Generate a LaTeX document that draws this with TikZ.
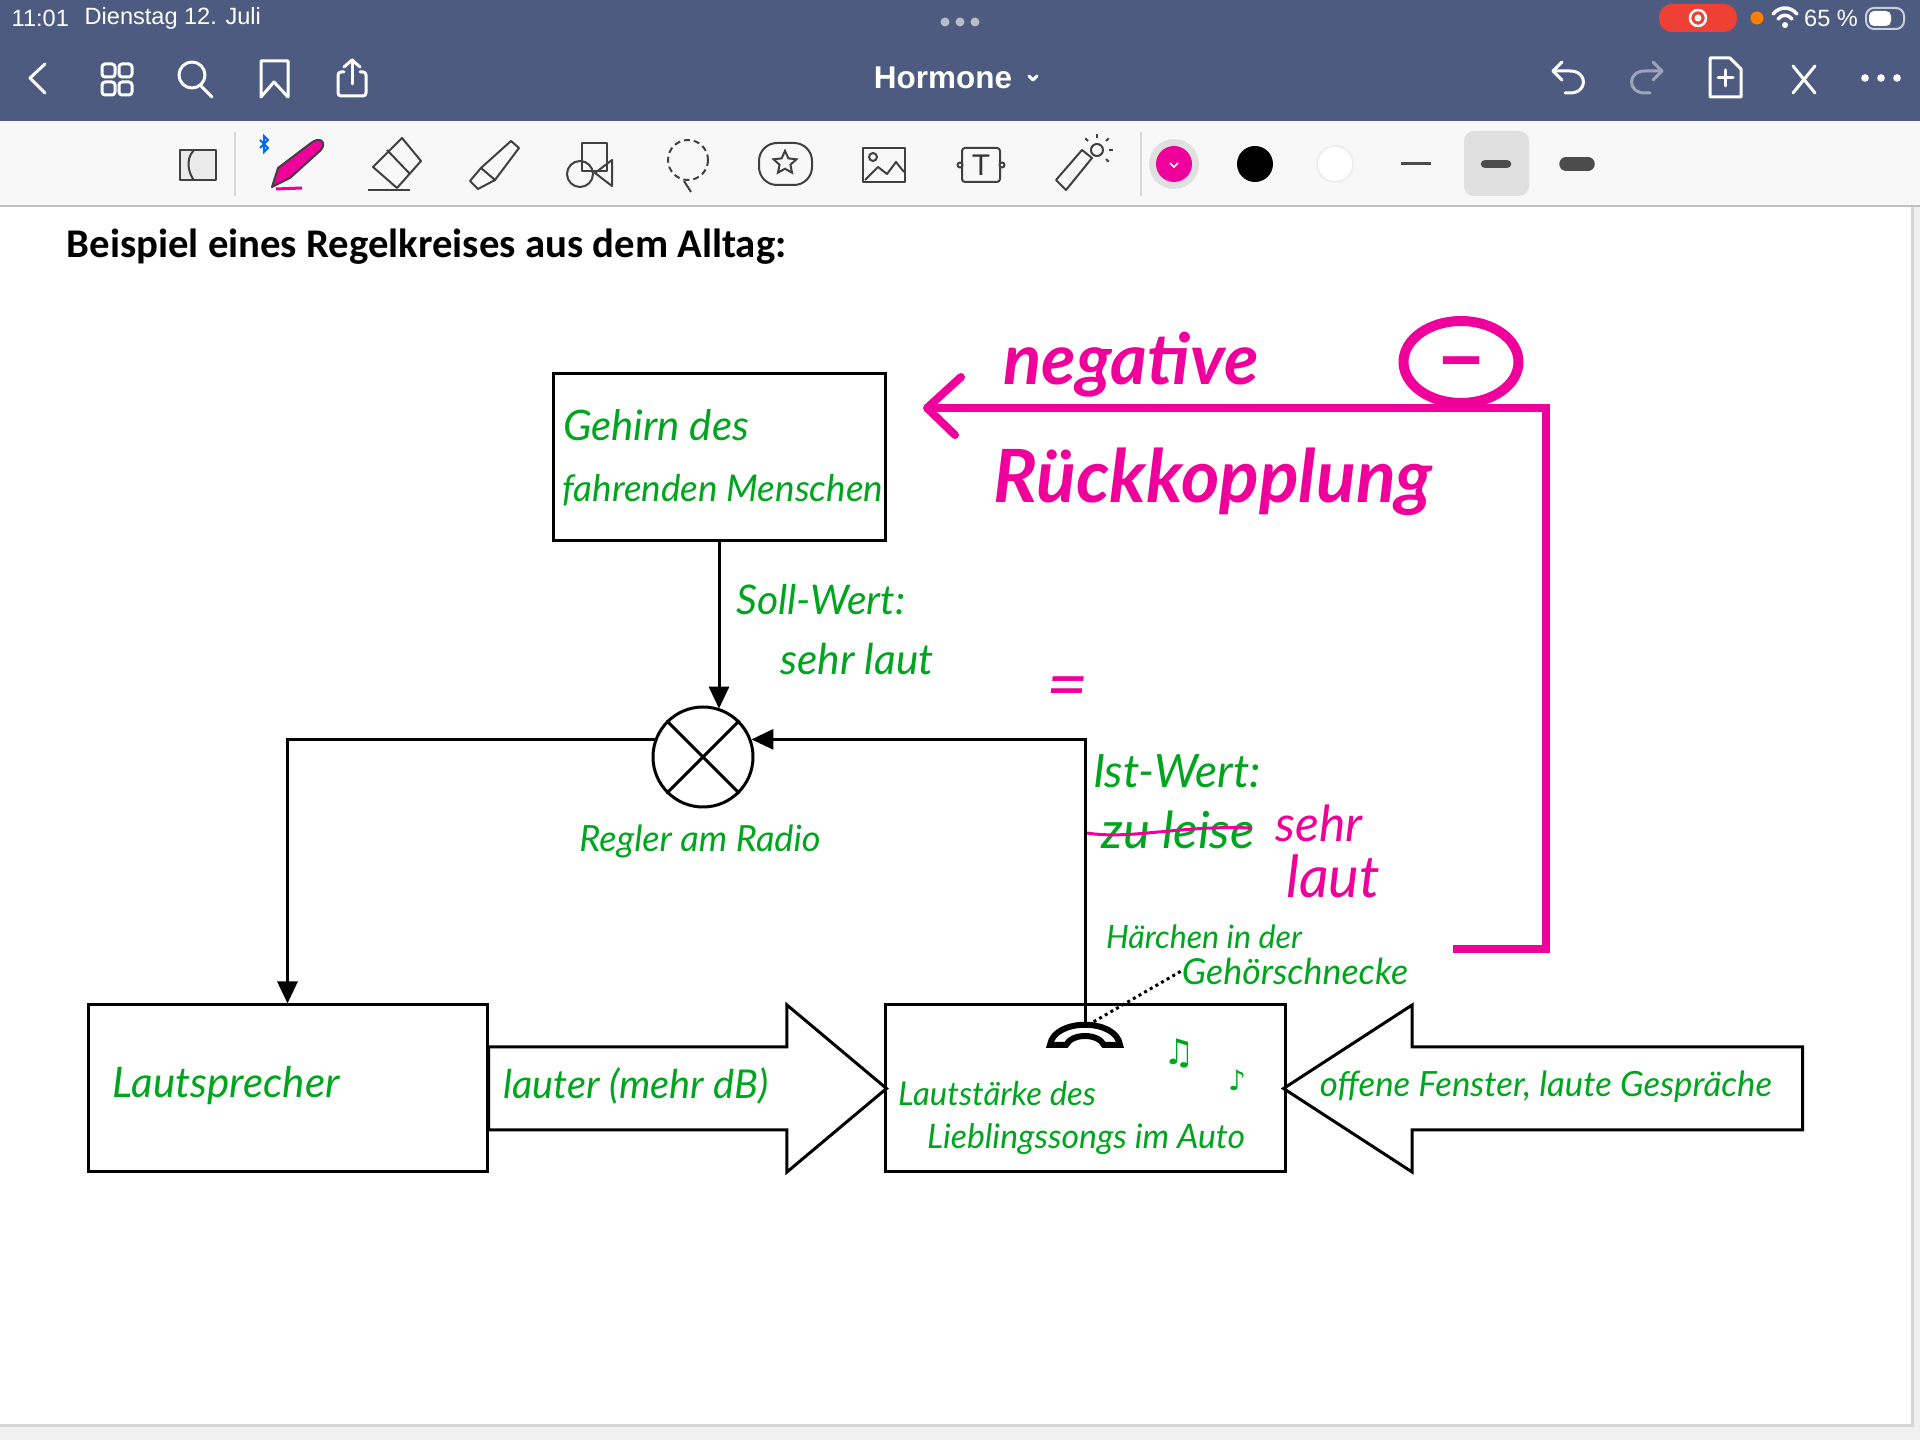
\documentclass[tikz,border=0pt]{standalone}
\usepackage{fontspec}
\setmainfont{Liberation Sans}
\newfontfamily\titlefont{Carlito}
\newfontfamily\handfont{Lato}
\newfontfamily\symbolfont{DejaVu Sans}
\usetikzlibrary{arrows.meta, calc, shapes.arrows, shapes.geometric}
\definecolor{barblue}{HTML}{4D5B80}
\definecolor{toolgrey}{HTML}{F8F8F8}
\definecolor{pengreen}{HTML}{00A51E}
\definecolor{penpink}{HTML}{F0009A}
\definecolor{recred}{HTML}{EE4035}
\newcommand{\hw}[2]{\resizebox{#1mm}{!}{#2}}
\tikzset{
  kasten/.style={draw, line width=0.3mm, minimum width=#1mm, minimum height=16.7mm, inner sep=0pt},
  blockpfeil/.style={draw, line width=0.3mm, single arrow, minimum height=#1mm, anchor=tail,
    single arrow head extend=4.2mm, single arrow tip angle=80, inner sep=0pt},
  signal/.style={line width=0.3mm},
  signalpfeil/.style={line width=0.3mm, -{Triangle[length=2.2mm, width=2mm]}},
  gruen/.style={text=pengreen, font=\handfont\itshape, inner sep=0pt},
  pink/.style={text=penpink, font=\handfont\itshape, inner sep=0pt},
  dickpink/.style={text=penpink, font=\handfont\itshape\bfseries, inner sep=0pt},
  baricon/.style={draw=white, line width=0.3mm, line cap=round, line join=round},
  toolicon/.style={draw=black!75, line width=0.2mm, line join=round},
  statustext/.style={text=white, font=\fontsize{6.7}{7}\selectfont, inner sep=0pt},
}
\begin{document}
\begin{tikzpicture}[x=0.1mm, y=-0.1mm]
\useasboundingbox (0,0) rectangle (1920,1440);
% page and bars
\fill[black!6] (0,0) rectangle (1920,1440);
\fill[black!16] (0,206) rectangle (1914,1427);
\fill[white] (0,206) rectangle (1911,1424);
\fill[barblue] (0,0) rectangle (1920,121);
\fill[toolgrey] (0,121) rectangle (1920,206);
\draw[black!25, line width=0.2mm] (0,206) -- (1920,206);
% status line
\node[statustext, anchor=west] (uhrzeit) at (11,18) {11:01};
\node[statustext, anchor=west] (datum) at (84,18) {Dienstag 12. Juli};
\foreach \x in {945,960,975} \fill[white!60!barblue] (\x,22) circle (4.5);
\fill[recred, rounded corners=1.3mm] (1659,4) rectangle (1737,32);
\draw[white, line width=0.25mm] (1698,18) circle (8);
\fill[white] (1698,18) circle (3.5);
\fill[orange] (1757,18) circle (6.5);
\draw[baricon, line width=0.35mm] (1773,14) .. controls (1780,6) and (1790,6) .. (1797,14);
\draw[baricon, line width=0.35mm] (1778,19) .. controls (1782,14) and (1788,14) .. (1792,19);
\fill[white] (1785,25) circle (3);
\node[statustext] (akku) at (1831,18) {65 \%};
\draw[white!70!barblue, line width=0.2mm, rounded corners=0.8mm] (1866,8) rectangle (1904,29);
\fill[white, rounded corners=0.5mm] (1869,11) rectangle (1891,26);
% upper bar
\draw[baricon] (45,64) -- (30,78) -- (45,93);
\foreach \x in {102,119} \foreach \y in {64,82}
  \draw[baricon, rounded corners=0.3mm] (\x,\y) rectangle ++(13,13);
\draw[baricon] (192,75) circle (13);
\draw[baricon] (201,86) -- (212,97);
\draw[baricon] (261,61) -- (288,61) -- (288,97) -- (274,82) -- (261,97) -- cycle;
\draw[baricon, rounded corners=0.3mm] (344,72) -- (338,72) -- (338,96) -- (366,96) -- (366,72) -- (360,72);
\draw[baricon] (352,84) -- (352,60);
\draw[baricon] (344,67) -- (352,60) -- (360,67);
\node[text=white, font=\fontsize{8.95}{10}\bfseries\selectfont, inner sep=0pt] (dateiname) at (943,78) {Hormone};
\draw[baricon] (1029,76) -- (1033,80) -- (1037,76);
\draw[baricon] (1562,62) -- (1553,71) -- (1562,80);
\draw[baricon] (1553,71) -- (1570,71) .. controls (1588,71) and (1588,93) .. (1570,93) -- (1565,93);
\draw[baricon, draw=white!45!barblue] (1653,62) -- (1662,71) -- (1653,80);
\draw[baricon, draw=white!45!barblue] (1662,71) -- (1645,71) .. controls (1627,71) and (1627,93) .. (1645,93) -- (1650,93);
\draw[baricon] (1710,58) -- (1730,58) -- (1741,69) -- (1741,97) -- (1710,97) -- cycle;
\draw[baricon] (1718,78) -- (1733,78) (1725.5,70) -- (1725.5,86);
\draw[baricon] (1793,66) -- (1815,93) (1815,66) -- (1793,93);
\foreach \x in {1865,1881,1897} \fill[white] (\x,78) circle (3.8);
% tools
\draw[black!15, line width=0.15mm] (235,132) -- (235,196);
\draw[black!15, line width=0.15mm] (1141,132) -- (1141,196);
\draw[toolicon, fill=black!8] (180,150) rectangle (216,180);
\draw[toolicon] (194,150) .. controls (184,160) and (190,176) .. (194,180);
\draw[blue!60!cyan, line width=0.2mm] (260,140) -- (268,148) -- (264,152) -- (264,136) -- (268,140) -- (260,148);
\draw[toolicon, fill=penpink] (272,187) -- (278,168) -- (311,143) .. controls (320,136) and (327,142) .. (321,150) -- (290,178) -- cycle;
\draw[penpink, line width=0.3mm] (276,189) -- (302,188);
\draw[toolicon] (402,138) -- (421,161) -- (397,188) -- (373,167) -- cycle (387,150) -- (410,174);
\draw[toolicon] (368,190) -- (410,190);
\draw[toolicon] (511,141) -- (519,148) -- (495,180) -- (481,168) -- cycle;
\draw[toolicon] (481,168) -- (470,181) -- (478,189) -- (495,180);
\draw[toolicon] (582,143) rectangle (607,171);
\draw[toolicon] (580,174) circle (13);
\draw[toolicon] (595,173) -- (612,160) -- (612,186) -- cycle;
\draw[toolicon, dash pattern=on 0.6mm off 0.4mm] (688,160) circle (20);
\draw[toolicon] (684,181) -- (691,192);
\draw[toolicon, rounded corners=1.8mm] (759,143) rectangle (812,185);
\node[star, star points=5, star point ratio=2.1, draw=black!75, line width=0.2mm, minimum size=2.4mm, inner sep=0pt] (stern) at (785,163) {};
\draw[toolicon] (863,148) rectangle (905,182);
\draw[toolicon] (873,157) circle (4);
\draw[toolicon] (865,180) -- (878,167) -- (887,174) -- (896,162) -- (904,172);
\draw[toolicon, rounded corners=0.3mm] (962,148) rectangle (1000,182);
\foreach \x in {960,1002} \draw[toolicon, fill=toolgrey] (\x,165) circle (2.5);
\node[font=\fontsize{8.5}{9}\selectfont, text=black!80, inner sep=0pt] (textfeld) at (981,165) {T};
\draw[toolicon] (1056,180) -- (1082,150) -- (1092,158) -- (1066,190) -- cycle;
\draw[toolicon] (1097,150) circle (6);
\foreach \dx/\dy in {0/-12,9/-9,12/0,9/9,-9/-9} \draw[toolicon] (1097+\dx,150+\dy) -- (1097+1.3*\dx,150+1.3*\dy);
\fill[black!12] (1174,164) circle (25);
\fill[penpink] (1174,164) circle (18);
\draw[white, line width=0.15mm] (1170,163) -- (1174,167) -- (1178,163);
\fill[black] (1255,164) circle (18);
\draw[black!8, line width=0.15mm, fill=white] (1335,164) circle (18);
\fill[black!12, rounded corners=1mm] (1464,131) rectangle (1529,196);
\draw[black!70, line width=0.3mm] (1401,164) -- (1431,164);
\draw[black!70, line width=0.85mm, line cap=round] (1485,164) -- (1507,164);
\draw[black!70, line width=1.35mm, line cap=round] (1566,164) -- (1588,164);
% heading
\node[font=\titlefont\bfseries\fontsize{11.6}{13}\selectfont, anchor=west, inner sep=0pt] (titel) at (66,247) {Beispiel eines Regelkreises aus dem Alltag:};
% control loop
\node[kasten=33.2] (gehirn) at (719,457) {};
\node[kasten=39.9] (lautsprecher) at (287.5,1088.5) {};
\node[kasten=40] (lautstaerke) at (1085,1088.5) {};
\node[draw, circle, line width=0.3mm, minimum size=10mm, inner sep=0pt] (regler) at (703,757) {};
\draw[signal] (regler.45) -- (regler.225) (regler.135) -- (regler.-45);
\node[blockpfeil=39.8] (lauter) at (487,1088.5) {\rule{0pt}{8mm}};
\node[blockpfeil=51.9, shape border rotate=180, single arrow tip angle=66] (stoerung) at (1804,1088.5) {\rule{0pt}{8mm}};
\coordinate (ohr) at (1085,1026);
\draw[signalpfeil] (gehirn.south) -- (gehirn.south |- regler.70);
\draw[signalpfeil] (ohr) |- (regler.20);
\draw[signalpfeil] (regler.160) -| (lautsprecher.north);
\draw[line width=0.6mm, fill=white] (1050,1045) .. controls (1054,1018) and (1116,1018) .. (1120,1045) -- (1104,1045) .. controls (1098,1033) and (1072,1033) .. (1066,1045) -- cycle;
% green writing
\node[gruen] (gehirntext) at (656,425) {\hw{18.6}{Gehirn des}};
\node[gruen] (menschen) at (723,490) {\hw{32}{fahrenden Menschen}};
\node[gruen] (sollwert) at (821,600) {\hw{16.9}{Soll-Wert:}};
\node[gruen] (sollwert2) at (857,659) {\hw{15.3}{sehr laut}};
\node[gruen] (reglertext) at (700,841) {\hw{24.1}{Regler am Radio}};
\node[gruen] (istwert) at (1177,771) {\hw{16.8}{Ist-Wert:}};
\node[gruen] (zuleise) at (1178,830) {\hw{15.3}{zu leise}};
\node[gruen] (haerchen) at (1204,937) {\hw{19.6}{Härchen in der}};
\node[gruen] (gehoer) at (1295,971) {\hw{22.6}{Gehörschnecke}};
\node[gruen] (spreche) at (226,1086) {\hw{22.7}{Lautsprecher}};
\node[gruen] (lautertext) at (636,1086) {\hw{26.5}{lauter (mehr dB)}};
\node[gruen] (stlautst) at (997,1094) {\hw{19.8}{Lautstärke des}};
\node[gruen] (lieblings) at (1086,1139) {\hw{31.8}{Lieblingssongs im Auto}};
\node[gruen] (fenster) at (1546,1087) {\hw{45.2}{offene Fenster, laute Gespräche}};
\node[text=pengreen, font=\symbolfont\fontsize{10}{10}\selectfont, inner sep=0pt] (note1) at (1179,1053) {♫};
\node[text=pengreen, font=\symbolfont\fontsize{8}{8}\selectfont, inner sep=0pt] (note2) at (1237,1080) {♪};
\draw[line width=0.3mm, dash pattern=on 0.3mm off 0.35mm] (1088,1025) -- (gehoer.west);
% pink writing
\node[dickpink] (negativ) at (1131,365) {\hw{25.5}{negative}};
\node[dickpink] (rueck) at (1213,482) {\hw{43.9}{Rückkopplung}};
\node[pink] (gleich) at (1067,693) {\hw{4.2}{=}};
\node[pink] (sehr) at (1319,823) {\hw{8.7}{sehr}};
\node[pink] (laut) at (1333,876) {\hw{9.4}{laut}};
\draw[penpink, line width=0.3mm] (1087,833) .. controls (1130,840) and (1180,825) .. (1251,828);
\node[ellipse, draw=penpink, line width=1mm, minimum width=11.5mm, minimum height=8.2mm, inner sep=0pt] (minus) at (1461,362) {};
\node[dickpink, font=\handfont\bfseries, yshift=-1mm] (minuszeichen) at (minus.center) {\hw{5.2}{–}};
\coordinate (rueckstart) at (1453,949);
\coordinate (ecke) at (1546,408);
\coordinate (rueckziel) at (927,408);
\draw[penpink, line width=0.8mm, line join=miter] (rueckstart) -| (ecke) -- (rueckziel);
\draw[penpink, line width=0.8mm, line cap=round, line join=round] (961,377) -- (rueckziel) -- (955,435);
\end{tikzpicture}
\end{document}
